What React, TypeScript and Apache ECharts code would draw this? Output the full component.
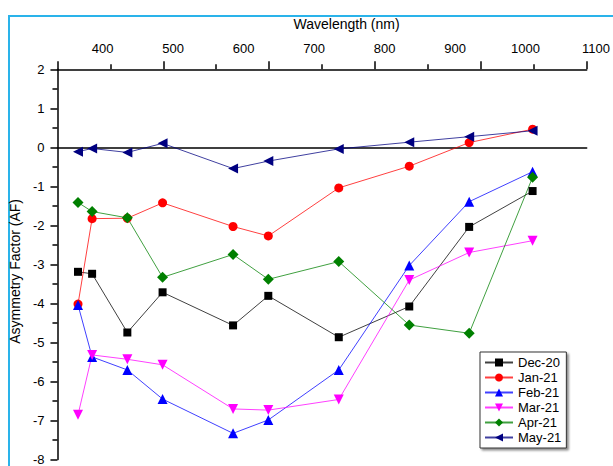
import React, { useEffect, useRef } from "react";
import * as echarts from "echarts";

const wavelengths = [365, 385, 435, 485, 585, 635, 735, 835, 920, 1010];
const dec20 = [-3.14, -3.19, -4.68, -3.66, -4.5, -3.75, -4.8, -4.02, -2.0, -1.09];
const jan21 = [-3.96, -1.79, -1.78, -1.39, -1.99, -2.23, -1.01, -0.46, 0.14, 0.48];
const feb21 = [-3.98, -5.3, -5.63, -6.37, -7.24, -6.9, -5.63, -2.98, -1.36, -0.6];
const mar21 = [-6.77, -5.25, -5.36, -5.5, -6.62, -6.65, -6.38, -3.35, -2.65, -2.35];
const apr21 = [-1.38, -1.61, -1.77, -3.28, -2.7, -3.33, -2.88, -4.49, -4.7, -0.74];
const may21 = [-0.09, -0.01, -0.11, 0.12, -0.52, -0.33, -0.02, 0.15, 0.29, 0.44];

const seriesNames = ["Dec-20", "Jan-21", "Feb-21", "Mar-21", "Apr-21", "May-21"];
const seriesValues = [dec20, jan21, feb21, mar21, apr21, may21];
const seriesColors = ["#000000", "#ff0000", "#0000ff", "#ff00ff", "#008000", "#000080"];
const seriesSymbols = ["rect", "circle", "triangle", "triangle", "diamond", "triangle"];
const seriesRotate = [0, 0, 0, 180, 0, 90];
const seriesSizes = [8, 9, 10, 10, 11, 10];

const FONT = "'Liberation Sans', Arial, sans-serif";

export default function App() {
  const ref = useRef<HTMLDivElement>(null);
  useEffect(() => {
    if (!ref.current) return;
    const chart = echarts.init(ref.current, undefined, { renderer: "svg" });
    const axisColor = "#000";
    const option: any = {
      animation: false,
      backgroundColor: "#fff",
      textStyle: { fontFamily: FONT },
      grid: [
        { left: 57.3, right: 26.3, top: 69.3, bottom: 2.7 },
        { left: 32.2, right: 14.6, top: 69.3, bottom: 2.7 },
      ],
      xAxis: [
        {
          gridIndex: 0,
          type: "value",
          position: "top",
          min: 0,
          max: 10,
          interval: 2,
          name: "Wavelength (nm)",
          nameLocation: "middle",
          nameGap: 38,
          nameTextStyle: { fontSize: 14, color: "#000", fontFamily: FONT, padding: [0, 0, 0, 49] },
          axisLine: { show: true, onZero: false, lineStyle: { color: axisColor, width: 1.5 } },
          axisTick: { show: true, length: 8, lineStyle: { color: axisColor, width: 1.5 } },
          minorTick: { show: true, splitNumber: 2, length: 5, lineStyle: { color: axisColor, width: 1.5 } },
          axisLabel: { show: false },
          splitLine: { show: false },
          minorSplitLine: { show: false },
        },
        {
          gridIndex: 0,
          type: "value",
          position: "bottom",
          min: 0,
          max: 10,
          axisLine: { show: true, onZero: true, lineStyle: { color: axisColor, width: 1.5 } },
          axisTick: { show: false },
          axisLabel: { show: false },
          splitLine: { show: false },
        },
        {
          gridIndex: 1,
          type: "value",
          position: "top",
          min: 300,
          max: 1100,
          interval: 100,
          axisLine: { show: false, onZero: false },
          axisTick: { show: false },
          axisLabel: {
            show: true,
            margin: 14,
            showMinLabel: false,
            showMaxLabel: true,
            fontSize: 13,
            color: "#000",
            fontFamily: FONT,
            formatter: (v: number) => String(v),
          },
          splitLine: { show: false },
        },
      ],
      yAxis: [
        {
          gridIndex: 0,
          type: "value",
          min: -8,
          max: 2,
          interval: 1,
          name: "Asymmetry Factor (AF)",
          nameLocation: "middle",
          nameGap: 25,
          nameTextStyle: { fontSize: 14, color: "#000", fontFamily: FONT, padding: [0, 14, 0, 0] },
          axisLine: { show: true, onZero: false, lineStyle: { color: axisColor, width: 1.5 } },
          axisTick: { show: true, length: 7, lineStyle: { color: axisColor, width: 1.5 } },
          minorTick: { show: true, splitNumber: 2, length: 5, lineStyle: { color: axisColor, width: 1.5 } },
          axisLabel: { margin: 13, fontSize: 13, color: "#000", fontFamily: FONT },
          splitLine: { show: false },
          minorSplitLine: { show: false },
        },
        {
          gridIndex: 1,
          type: "value",
          min: -8,
          max: 2,
          show: false,
          splitLine: { show: false },
        },
      ],
      legend: {
        orient: "vertical",
        left: 480,
        top: 352,
        padding: [4, 5, 4, 4],
        itemGap: 2,
        itemWidth: 28,
        itemHeight: 10,
        itemTextGap: 3,
        backgroundColor: "#fff",
        borderColor: "#333",
        borderWidth: 1,
        borderRadius: 0,
        shadowColor: "rgba(0,0,0,0.45)",
        shadowBlur: 2,
        shadowOffsetX: 2,
        shadowOffsetY: 2,
        textStyle: { fontSize: 13, color: "#000", fontFamily: FONT },
        data: seriesNames,
        z: 10,
      },
      graphic: [
        {
          type: "polyline",
          shape: { points: [[9, 466], [9, 16], [613, 16]] },
          style: { stroke: "#2ab3ea", lineWidth: 2, fill: null },
          silent: true,
        },
      ],
      series: seriesNames.map((name, i) => ({
        name,
        type: "line",
        xAxisIndex: 2,
        yAxisIndex: 1,
        data: wavelengths.map((w, j) => [w, seriesValues[i][j]]),
        symbol: seriesSymbols[i],
        symbolRotate: seriesRotate[i],
        symbolSize: seriesSizes[i],
        showAllSymbol: true,
        color: seriesColors[i],
        itemStyle: { color: seriesColors[i] },
        lineStyle: { color: seriesColors[i], width: 1, opacity: 0.75 },
        clip: false,
        z: 3,
      })),
    };
    chart.setOption(option);
    return () => chart.dispose();
  }, []);
  return (
    <div
      ref={ref}
      style={{ position: "fixed", left: 0, top: 0, width: 613, height: 466 }}
    />
  );
}
